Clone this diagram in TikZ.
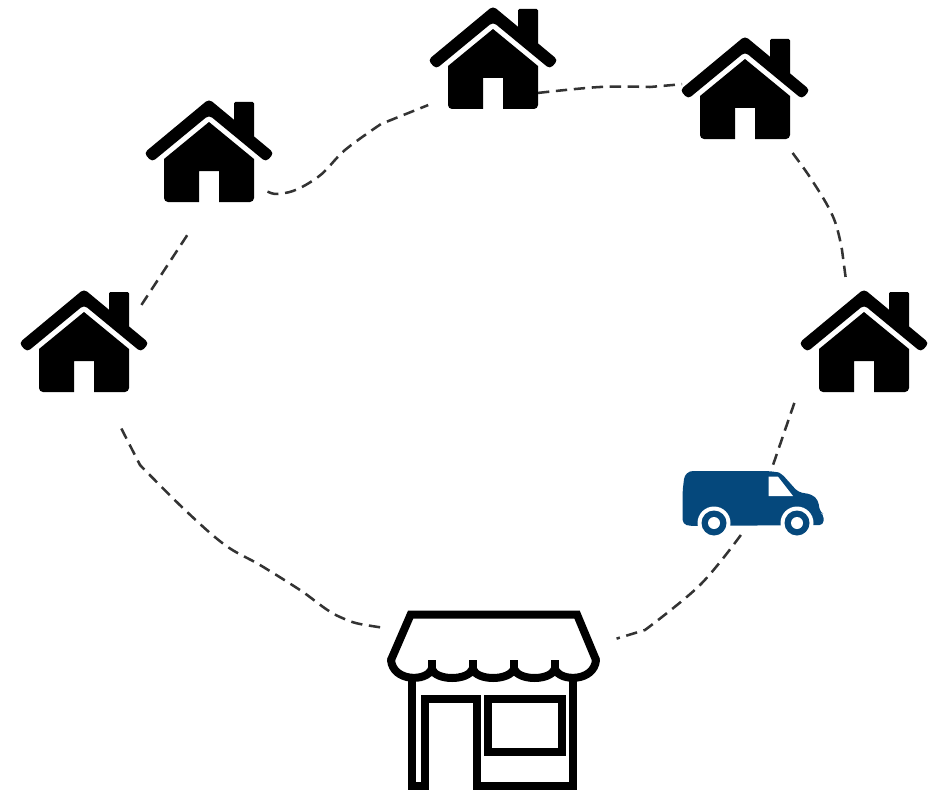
\documentclass[tikz,border=0pt]{standalone}
\usepackage{xcolor}
\definecolor{cVan}{HTML}{05487C}
\definecolor{cRoute}{HTML}{333333}
\usepackage{tikz}
\usetikzlibrary{positioning,calc}
\tikzset{
  node-house/.style={inner sep=0pt,outer sep=0pt,minimum width=67.5pt,minimum height=60pt},
  node-van/.style={inner sep=0pt,outer sep=0pt,minimum width=105.75pt,minimum height=48pt},
  node-store/.style={inner sep=0pt,outer sep=0pt,minimum width=159pt,minimum height=135pt},
  route/.style={draw=cRoute,line width=1.9pt,dash pattern=on 8.5pt off 5pt},
  store-line/.style={draw=black,line width=6pt,miter limit=10},
  house/.pic={
    \begin{scope}[shift={(0,-61)}]
      \fill[rounded corners=3pt] (-65,52) -- (0,-2) -- (65,52) -- (57,61) -- (0,14) -- (-57,61) -- cycle;
      \fill[rounded corners=1pt] (25,1) -- (45,1) -- (45,38) -- (25,22) -- cycle;
      \fill (0,21) -- (45,58) [rounded corners=3pt] -- (45,101) [sharp corners] -- (10,101) -- (10,70)
        -- (-10,70) -- (-10,101) [rounded corners=3pt] -- (-45,101) [sharp corners] -- (-45,58) -- cycle;
    \end{scope}
  },
  wheel/.pic={
    \fill[white] (0,0) circle (16.5);
    \fill[cVan] (0,0) circle (12.5);
    \fill[white] (0,0) circle (6);
  },
}
\begin{document}
\begin{tikzpicture}[x=0.75pt,y=-0.75pt]
  \useasboundingbox (0,0) rectangle (939,792);
  \node[node-house] (houseA) at (84,352) {};
  \node[node-house] (houseB) at (209,162) {};
  \node[node-house] (houseC) at (493,69) {};
  \node[node-house] (houseD) at (745,99) {};
  \node[node-house] (houseE) at (864,352) {};
  \node[node-van] (van) at (752.5,503) {};
  \node[node-store] (store) at (494,700) {};

  \draw[route,shorten <=17pt,shorten >=29pt] (houseA.32) -- (houseB.south);
  \draw[route,shorten <=11pt,shorten >=16pt] plot[smooth,tension=0.6] coordinates
    {(houseB.-28) (285,193) (318,177) (345,150) (381,124)} -- (houseC.-148);
  \draw[route,shorten >=13.5pt] plot[smooth,tension=0.6] coordinates
    {(houseC.-28) (600,87) (650,87)} -- (houseD.160);
  \draw[route,shorten <=13pt,shorten >=24pt] plot[smooth,tension=0.6] coordinates
    {(houseD.-47) (815,185) (834,219) (842,250)} -- (houseE.109);
  \draw[route,shorten <=57pt] (houseE.155) -- (van.60);
  \draw[route,shorten >=13pt] plot[smooth,tension=0.6] coordinates
    {(van.-110) (700,585) (645,630)} -- (store.28);
  \draw[route,shorten <=6pt,shorten >=27pt] plot[smooth,tension=0.6] coordinates
    {(store.146) (340,617) (300,590) (260,565) (225,545) (185,510) (140,465)} -- (houseA.-65);

  \pic at (houseA) {house};
  \pic at (houseB) {house};
  \pic at (houseC) {house};
  \pic at (houseD) {house};
  \pic at (houseE) {house};

  % van
  \fill[cVan,rounded corners=2pt] (682.7,524) -- (682.7,490) [rounded corners=6pt] -- (685,471)
    -- (772,471) [rounded corners=3pt] -- (781,473) -- (798,492) -- (812,494.5) -- (818,500) -- (820,512)
    -- (823.5,514) -- (823.5,525) -- (690,526) -- cycle;
  \fill[white] (768.7,476.7) -- (778,476.7) -- (793,496) -- (768.7,496) -- cycle;
  \pic at (714,523) {wheel};
  \pic at (797,523) {wheel};

  % store
  \draw[store-line,line cap=round] (391,660) -- (410.7,614.5) -- (577,614.5) -- (596,660);
  \draw[store-line,line cap=round] (391,660) .. controls (393,682) and (427,682) .. (431.7,669)
    .. controls (436,681) and (468,681) .. (472.7,669)
    .. controls (477,681) and (509,681) .. (514,669)
    .. controls (519,681) and (550,681) .. (555,669)
    .. controls (560,682) and (594,682) .. (596,660);
  \foreach \cx in {431.7,472.7,514,555}
    \draw[store-line] (\cx,660) -- (\cx,672);
  \draw[store-line] (411.7,678) -- (411.7,785.7) -- (425,785.7) -- (425,698.7) -- (476.7,698.7)
    -- (476.7,785.7) -- (573,785.7) -- (573,678);
  \draw[store-line] (488.3,698.7) rectangle (562.3,751.7);
\end{tikzpicture}
\end{document}
